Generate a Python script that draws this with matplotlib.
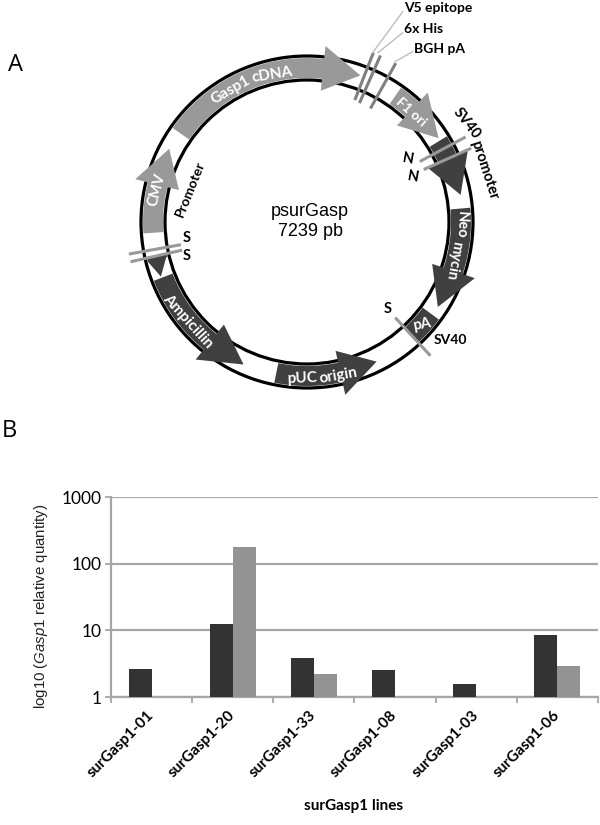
import numpy as np
import matplotlib
matplotlib.use("Agg")
import matplotlib.pyplot as plt
from matplotlib.patches import Polygon, Circle
from matplotlib.transforms import ScaledTranslation

plt.rcParams['mathtext.fontset'] = 'custom'
plt.rcParams['mathtext.it'] = 'Liberation Sans:italic'
plt.rcParams['mathtext.rm'] = 'Liberation Sans'

# ---- bar chart data
lines = ['surGasp1-01', 'surGasp1-20', 'surGasp1-33', 'surGasp1-08', 'surGasp1-03', 'surGasp1-06']
series_dark = [2.65, 12.5, 3.9, 2.5, 1.55, 8.6]
series_light = [np.nan, 175, 2.2, np.nan, np.nan, 2.95]
y_ticks = [1, 10, 100, 1000]
y_tick_labels = ['1', '10', '100', '1000']

# ---- plasmid features: clockwise degrees from north (start, head base, tip)
feat_start = [305, 35, 58.5, 85, 266, 191.5, 249, 257]
feat_base = [6, 43, 65.5, 108.5, 284, 167.5, 219, 256]
feat_tip = [20, 57.5, 80, 123, 298, 153.5, 204, 249.5]
feat_head_out = [177, 177, 177, 177, 177, 177, 177, 164]
feat_head_in = [132, 132, 132, 132, 132, 132, 132, 145]
feat_color = ['#999999', '#999999', '#404040', '#404040', '#999999', '#404040', '#404040', '#404040']
pa_range = [126.5, 137.5]

# cut sites: angle, inner radius, outer radius
cut_angle = [21.4, 23.8, 29.2, 61.8, 65.8, 259.8, 257.3, 137.3]
cut_inner = [131, 130, 130, 128, 128, 128, 128, 130]
cut_outer = [182, 182, 182, 180, 180, 181, 181, 182]

CX, CY, R_OUT, R_IN = 307, 222, 166, 142
BODY_OUT, BODY_IN = 164, 144
HEAD_TIP = 156
DARK, LIGHT = '#404040', '#999999'

fig = plt.figure(figsize=(6, 8.25), dpi=100, facecolor='white')
m = fig.add_axes([0, 0, 1, 1])
m.set_xlim(0, 600)
m.set_ylim(825, 0)
m.axis('off')


def pol(angle, r):
    a = np.radians(angle)
    return CX + r * np.sin(a), CY - r * np.cos(a)


def arc(a0, a1, r):
    return [pol(a, r) for a in np.linspace(a0, a1, 40)]


for r in (R_OUT, R_IN):
    m.add_patch(Circle((CX, CY), r, fill=False, ec='black', lw=2.3, zorder=1))

for s, b, tp, ho, hi, c in zip(feat_start, feat_base, feat_tip, feat_head_out, feat_head_in, feat_color):
    b_unwrapped = b + 360 if s - b > 180 else b
    t_unwrapped = tp + (b_unwrapped - b)
    pts = arc(s, b_unwrapped, BODY_OUT)
    pts += [pol(b_unwrapped, ho), pol(t_unwrapped, HEAD_TIP), pol(b_unwrapped, hi)]
    pts += arc(b_unwrapped, s, BODY_IN)
    m.add_patch(Polygon(pts, closed=True, fc=c, ec='none', zorder=2))

m.add_patch(Polygon(arc(pa_range[0], pa_range[1], BODY_OUT) + arc(pa_range[1], pa_range[0], BODY_IN),
                    closed=True, fc=DARK, ec='none', zorder=2))

for a, r0, r1 in zip(cut_angle, cut_inner, cut_outer):
    p0, p1 = pol(a, r0), pol(a, r1)
    m.plot([p0[0], p1[0]], [p0[1], p1[1]], color=LIGHT if a > 60 else '#808080', lw=2.2,
           solid_capstyle='butt', zorder=3)

# leader lines to the upper labels
leader_color = '#bdbdbd'
m.plot([372.7, 402.7], [52.7, 11.7], color=leader_color, lw=1.0, zorder=3)
m.plot([378, 402.7], [52.7, 32.7], color=leader_color, lw=1.0, zorder=3)
m.plot([395, 412.7], [61.7, 51.7], color=leader_color, lw=1.0, zorder=3)

LBL = 'Lato'


def t(x, y, s, rot=0, color='black', size=9.5, weight='bold', family=LBL, ha='center'):
    m.text(x, y, s, rotation=rot, color=color, fontsize=size, fontweight=weight, family=family,
           ha=ha, va='center', rotation_mode='anchor', zorder=5)


t(15, 65, 'A', size=17, weight='normal', family='Open Sans')
t(9, 431, 'B', size=17, weight='normal', family='Open Sans')
t(310, 211, 'psurGasp', size=13, weight='normal', family='Liberation Sans')
t(310, 232, '7239 pb', size=13, weight='normal', family='Liberation Sans')

t(231, 90, 'Gasp1', 30, 'white', 11, 'bold')
t(272, 75, 'cDNA', 9, 'white', 11, 'bold')
t(411, 112, 'F1 ori', -42, 'white', 10, 'bold')
t(157, 190, 'CMV', 75, 'white', 10.5, 'bold')
t(461, 225, 'Neo', -93, 'white', 10.5, 'bold')
t(454, 260, 'mycin', -100, 'white', 10.5, 'bold')
t(188, 321, 'Ampicillin', -48, 'white', 11, 'bold')
t(302, 378, 'pUC', 2, 'white', 11, 'bold')
t(338, 376, 'origin', 10, 'white', 11, 'bold')
t(422, 325, 'pA', 10, 'white', 10.5, 'bold')

t(190, 189, 'Promoter', 68, size=10)
t(467, 123, 'SV40', -52, size=10.5)
t(484, 170, 'promoter', -72, size=10.5)
t(187, 238, 'S', 0, size=10.5)
t(187, 256, 'S', 0, size=10.5)
t(408, 159, 'N', -10, size=10.5)
t(413, 177, 'N', -10, size=10.5)
t(388, 309, 'S', 0, size=10.5)
t(450, 340, 'SV40', 0, size=10)

t(404, 8, 'V5 epitope', ha='left', size=10)
t(404, 29, '6x His', ha='left', size=10)
t(414, 49, 'BGH pA', ha='left', size=10)

# ---- bar chart
W, H = 600, 825
ax = fig.add_axes([111 / W, 1 - 697 / H, (598 - 111) / W, 200 / H])
x = np.arange(len(lines))
bw = 23 / 81
ax.set_yscale('log')
ax.set_ylim(1, 1000)
ax.set_xlim(-0.5, len(lines) - 0.5)
ax.bar(x - bw / 2, series_dark, bw, color='#333333', zorder=3)
ax.bar(x + bw / 2, series_light, bw, color='#939393', zorder=3)
ax.set_yticks(y_ticks)
ax.set_yticklabels(y_tick_labels, fontsize=12.5, family='Lato')
ax.minorticks_off()
ax.yaxis.grid(True, color='#a6a6a6', lw=1.6, zorder=0)
ax.set_axisbelow(True)
ax.set_xticks(np.arange(len(lines) + 1) - 0.5)
ax.set_xticklabels([])
ax.set_xticks(x, minor=True)
ax.set_xticklabels(lines, minor=True, rotation=45, ha='right', rotation_mode='anchor',
                   fontsize=11, fontweight='bold', family='Lato')
ax.tick_params(axis='x', which='minor', length=0, pad=8)
ax.tick_params(axis='x', which='major', length=4, width=1.3, color='#a6a6a6')
ax.tick_params(axis='y', which='major', length=4, width=1.3, color='#a6a6a6', pad=3)
offset = ScaledTranslation(-0.05, 0, fig.dpi_scale_trans)
for lab in ax.get_xticklabels(minor=True):
    lab.set_transform(lab.get_transform() + offset)
for side in ('top', 'right'):
    ax.spines[side].set_visible(False)
for side in ('left', 'bottom'):
    ax.spines[side].set_color('#a6a6a6')
    ax.spines[side].set_linewidth(1.6)
m.text(41, 606, r'log10 ($\mathit{Gasp1}$ relative quantity)', rotation=90, fontsize=10.8,
       family='Liberation Sans', color='#222222', ha='center', va='center')
m.text(354, 806, 'surGasp1 lines', fontsize=11, fontweight='bold', family='Lato', ha='center', va='center')

fig.savefig('out.png', dpi=100)
